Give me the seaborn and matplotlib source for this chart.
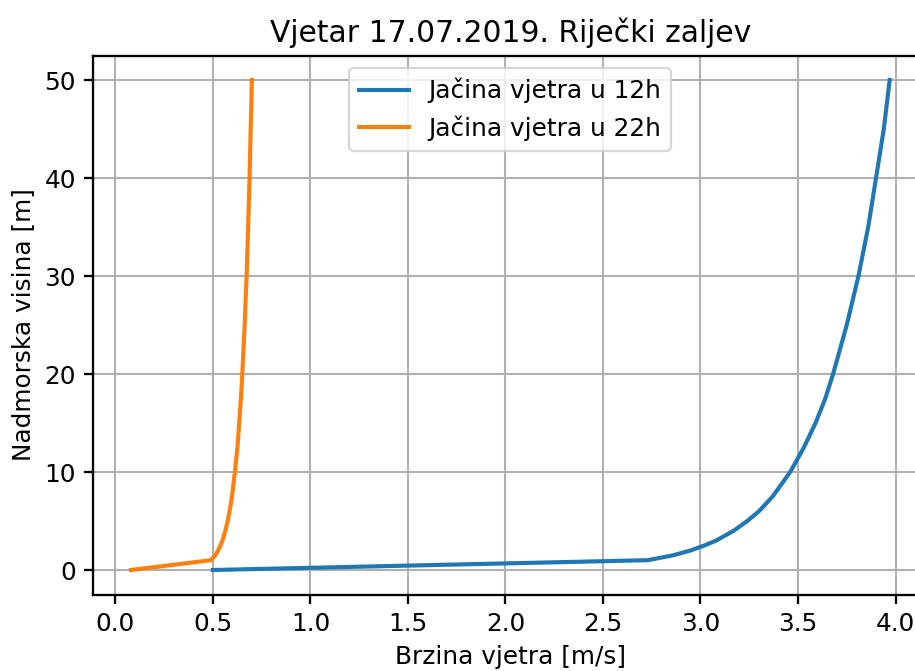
import matplotlib
matplotlib.use("Agg")
import matplotlib.pyplot as plt
import seaborn as sns
import pandas as pd

# visine [m] i brzine vjetra [m/s] ocitane sa grafa
visina = [0, 1, 1.5, 2, 2.5, 3, 4, 5, 6, 7.5, 10, 12.5, 15, 17.5, 20, 25, 30, 35, 40, 45, 50]
brzina_12h = [0.50, 2.73, 2.86, 2.95, 3.02, 3.08, 3.17, 3.24, 3.30, 3.37, 3.46, 3.53, 3.59,
              3.64, 3.68, 3.75, 3.81, 3.86, 3.90, 3.94, 3.97]
brzina_22h = [0.08, 0.49, 0.512, 0.527, 0.539, 0.549, 0.564, 0.576, 0.586, 0.598, 0.613,
              0.626, 0.635, 0.644, 0.651, 0.663, 0.673, 0.681, 0.688, 0.694, 0.700]

df = pd.DataFrame({
    "visina": visina * 2,
    "brzina": brzina_12h + brzina_22h,
    "serija": ["Jačina vjetra u 12h"] * len(visina) + ["Jačina vjetra u 22h"] * len(visina),
})

plt.rcParams["font.size"] = 10.8
plt.rcParams["axes.linewidth"] = 1.0

dpi = 165
fig = plt.figure(figsize=(915 / dpi, 671 / dpi), dpi=dpi)
ax = fig.add_axes([93 / 915, (671 - 594.5) / 671, (927.6 - 93) / 915, (594.5 - 55.5) / 671])

sns.lineplot(data=df, x="brzina", y="visina", hue="serija", sort=False,
             estimator=None, palette=["#1f77b4", "#ff7f0e"], linewidth=1.8, ax=ax)

ax.grid(True, color="#b0b0b0", linewidth=0.9)
ax.set_xticks([0.0, 0.5, 1.0, 1.5, 2.0, 2.5, 3.0, 3.5, 4.0])
ax.tick_params(length=4, width=1.0)
ax.set_title("Vjetar 17.07.2019. Riječki zaljev", fontsize=13)
ax.set_xlabel("Brzina vjetra [m/s]")
ax.set_ylabel("Nadmorska visina [m]")
ax.legend(loc="upper center")

fig.savefig("out.png", dpi=dpi)
